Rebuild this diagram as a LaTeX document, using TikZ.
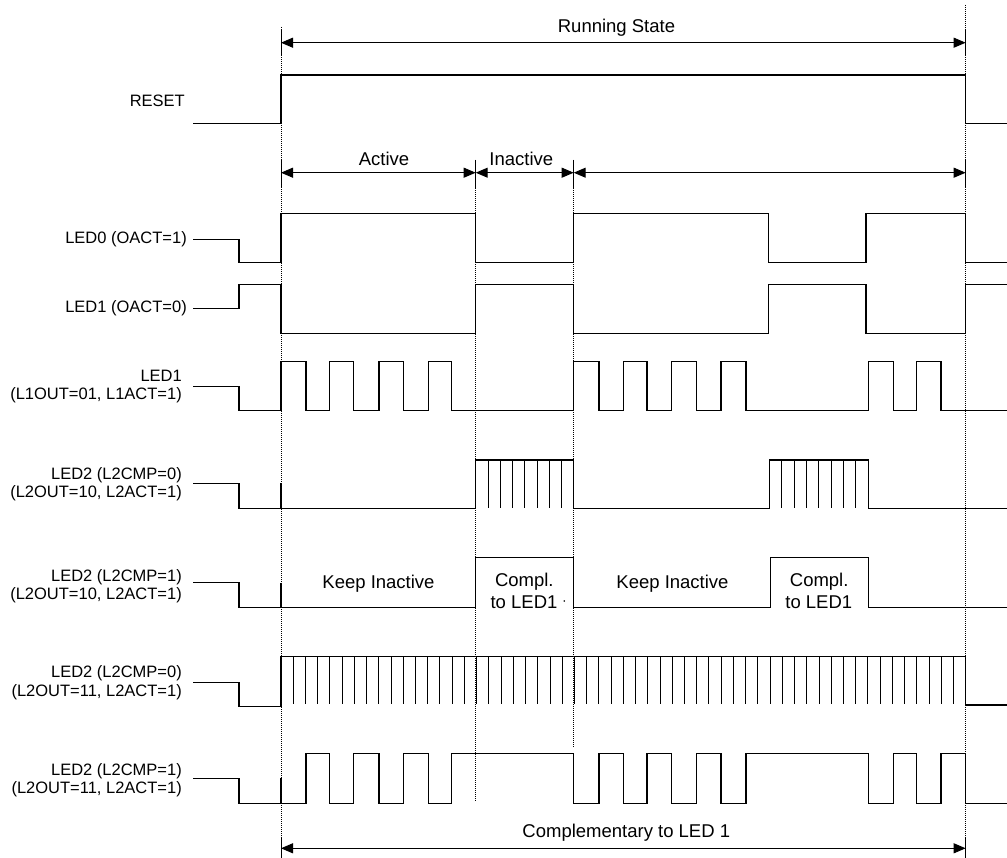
\documentclass[tikz,border=0pt]{standalone}
\usepackage{fontspec}
\setmainfont{Liberation Sans}
\usetikzlibrary{arrows.meta}
\begin{document}
\begin{tikzpicture}[x=1pt,y=-1pt,
  wave/.style={line width=1.2pt,line join=miter},
  fast/.style={line width=0.9pt},
  dimline/.style={line width=1pt,{Triangle[length=12pt,width=10pt]}-{Triangle[length=12pt,width=10pt]}},
  tick/.style={line width=1pt},
  guide/.style={line width=0.8pt,dash pattern=on 1pt off 1pt},
  lbl/.style={font=\fontsize{16.5}{18.5}\selectfont,align=right,anchor=east,inner sep=0pt},
  ann/.style={font=\fontsize{18.5}{20.5}\selectfont,align=center,inner sep=0pt}]
\useasboundingbox (0,0) rectangle (1007,858);
\def\xa{281}\def\xb{475.7}\def\xc{573.7}\def\xd{965.7}
% guides
\draw[guide] (\xa,27) -- (\xa,858);
\draw[guide] (\xb,160) -- (\xb,802);
\draw[guide] (\xc,160) -- (\xc,748);
\draw[guide] (\xd,5) -- (\xd,858);
% Running state
\coordinate (rs1) at (\xa,42.7); \coordinate (rs2) at (\xd,42.7);
\draw[tick] (\xa,30) -- (\xa,55); \draw[tick] (\xd,30) -- (\xd,55);
\draw[dimline] (rs1) -- (rs2);
\node[ann] (rstext) at (616.5,28) {Running State};
% Active / Inactive
\coordinate (ph0) at (\xa,172.7); \coordinate (ph1) at (\xb,172.7);
\coordinate (ph2) at (\xc,172.7); \coordinate (ph3) at (\xd,172.7);
\foreach \x in {\xa,\xb,\xc,\xd} \draw[tick] (\x,160) -- (\x,188);
\draw[dimline] (ph0) -- (ph1);
\draw[dimline] (ph1) -- (ph2);
\draw[dimline] (ph2) -- (ph3);
\node[ann] (acttext) at (384,159) {Active};
\node[ann] (inacttext) at (521.3,159) {Inactive};
% Complementary
\coordinate (cp1) at (\xa,848.3); \coordinate (cp2) at (\xd,848.3);
\draw[tick] (\xa,836.7) -- (\xa,858); \draw[tick] (\xd,836.7) -- (\xd,858);
\draw[dimline] (cp1) -- (cp2);
\node[ann] (cptext) at (626.3,832.7) {Complementary to LED 1};
% labels
\node[lbl] (lreset) at (185,101) {RESET};
\node[lbl] (lled0) at (187,239.3) {LED0 (OACT=1)};
\node[lbl] (lled1) at (187,308.3) {LED1 (OACT=0)};
\node[lbl] (lled1b) at (182,386.3) {LED1\\(L1OUT=01, L1ACT=1)};
\node[lbl] (lled2a) at (182,484) {LED2 (L2CMP=0)\\(L2OUT=10, L2ACT=1)};
\node[lbl] (lled2b) at (182,586) {LED2 (L2CMP=1)\\(L2OUT=10, L2ACT=1)};
\node[lbl] (lled2c) at (182,682.5) {LED2 (L2CMP=0)\\(L2OUT=11, L2ACT=1)};
\node[lbl] (lled2d) at (182,780) {LED2 (L2CMP=1)\\(L2OUT=11, L2ACT=1)};
% RESET
\draw[wave] (193.3,123.3) -- (\xa,123.3) -- (\xa,75) -- (\xd,75) -- (\xd,123.3) -- (1007,123.3);
% LED0
\draw[wave] (193.3,239.3) -- (239,239.3) -- (239,262.3) -- (\xa,262.3) -- (\xa,213.3) -- (\xb,213.3) -- (\xb,262.3) -- (\xc,262.3) -- (\xc,213.3) -- (768.7,213.3) -- (768.7,262.3) -- (866,262.3) -- (866,213.3) -- (\xd,213.3) -- (\xd,262.3) -- (1007,262.3);
% LED1 OACT=0
\draw[wave] (193.3,308.3) -- (239,308.3) -- (239,284.3) -- (\xa,284.3) -- (\xa,333.3) -- (\xb,333.3) -- (\xb,284.3) -- (\xc,284.3) -- (\xc,333.3) -- (768.7,333.3) -- (768.7,284.3) -- (866,284.3) -- (866,333.3) -- (\xd,333.3) -- (\xd,284.3) -- (1007,284.3);
% LED1 L1OUT=01
\draw[wave] (193.3,386.7) -- (239,386.7) -- (239,410.7) -- (\xa,410.7) -- (\xa,361.7) -- (306,361.7) -- (306,410.7) -- (329.3,410.7) -- (329.3,361.7) -- (353.3,361.7) -- (353.3,410.7) -- (379,410.7) -- (379,361.7) -- (403.3,361.7) -- (403.3,410.7) -- (428.3,410.7) -- (428.3,361.7) -- (451.7,361.7) -- (451.7,410.7) -- (\xc,410.7) -- (\xc,361.7) -- (599,361.7) -- (599,410.7) -- (623.7,410.7) -- (623.7,361.7) -- (647,361.7) -- (647,410.7) -- (671.7,410.7) -- (671.7,361.7) -- (696.7,361.7) -- (696.7,410.7) -- (721,410.7) -- (721,361.7) -- (746,361.7) -- (746,410.7) -- (868.3,410.7) -- (868.3,361.7) -- (893.3,361.7) -- (893.3,410.7) -- (916.7,410.7) -- (916.7,361.7) -- (941,361.7) -- (941,410.7) -- (1007,410.7);
% LED2 L2CMP=0 L2OUT=10
\draw[wave] (193.3,483.3) -- (239,483.3) -- (239,508.3) -- (\xb,508.3) -- (\xb,460) -- (\xc,460) -- (\xc,508.3) -- (769.3,508.3) -- (769.3,460) -- (868.3,460) -- (868.3,508.3) -- (1007,508.3);
\draw[wave] (\xa,483.3) -- (\xa,508.3);
\foreach \k in {1,...,7} {
  \draw[fast] ({\xb+\k*12.25},460) -- ({\xb+\k*12.25},508.3);
  \draw[fast] ({769.3+\k*12.375},460) -- ({769.3+\k*12.375},508.3);
}
% LED2 L2CMP=1 L2OUT=10
\draw[wave] (193.3,582.7) -- (239,582.7) -- (239,607.3) -- (\xb,607.3) -- (\xb,557.3) -- (\xc,557.3) -- (\xc,607.3) -- (770.7,607.3) -- (770.7,557.3) -- (868.3,557.3) -- (868.3,607.3) -- (1007,607.3);
\draw[wave] (\xa,582.7) -- (\xa,607.3);
\node[ann] (keep1) at (378.5,583.3) {Keep Inactive};
\node[ann] (keep2) at (672.5,583.3) {Keep Inactive};
\node[ann] (compl1) at (524.3,582) {Compl.};
\node[ann] (tol1) at (524,602) {to LED1};
\fill (564.3,601) circle (0.9);
\node[ann] (compl2) at (819.2,582) {Compl.};
\node[ann] (tol2) at (818.8,602) {to LED1};
% LED2 L2CMP=0 L2OUT=11
\draw[wave] (193.3,682.3) -- (239,682.3) -- (239,706.7) -- (\xa,706.7) -- (\xa,656.7) -- (\xd,656.7) -- (\xd,705) -- (1007,705);
\foreach \k in {1,...,55} \draw[fast] ({\xa+\k*12.226},656.7) -- ({\xa+\k*12.226},704);
% LED2 L2CMP=1 L2OUT=11
\draw[wave] (193.3,778.3) -- (239,778.3) -- (239,803.3) -- (306,803.3) -- (306,753.3) -- (329.3,753.3) -- (329.3,803.3) -- (353.3,803.3) -- (353.3,753.3) -- (379,753.3) -- (379,803.3) -- (403.3,803.3) -- (403.3,753.3) -- (428.3,753.3) -- (428.3,803.3) -- (451.7,803.3) -- (451.7,753.3) -- (\xc,753.3) -- (\xc,803.3) -- (599,803.3) -- (599,753.3) -- (623.7,753.3) -- (623.7,803.3) -- (647,803.3) -- (647,753.3) -- (671.7,753.3) -- (671.7,803.3) -- (696.7,803.3) -- (696.7,753.3) -- (721,753.3) -- (721,803.3) -- (746,803.3) -- (746,753.3) -- (868.3,753.3) -- (868.3,803.3) -- (893.3,803.3) -- (893.3,753.3) -- (916.7,753.3) -- (916.7,803.3) -- (941,803.3) -- (941,753.3) -- (\xd,753.3) -- (\xd,803.3) -- (1007,803.3);
\draw[wave] (\xa,778.3) -- (\xa,803.3);
\end{tikzpicture}
\end{document}
